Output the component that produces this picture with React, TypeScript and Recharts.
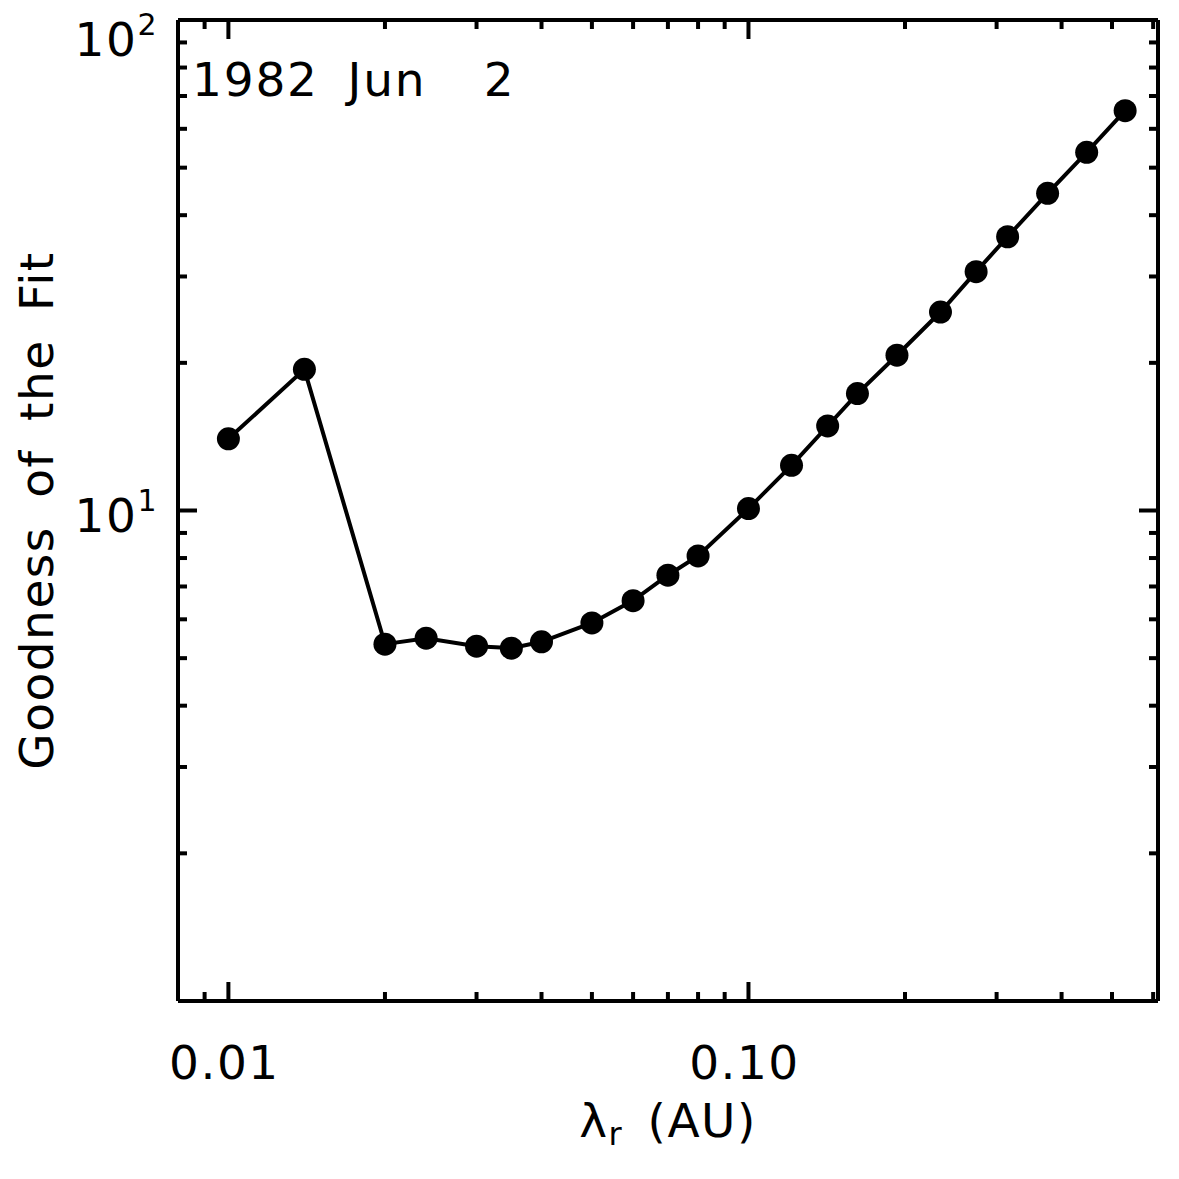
import React from "react";
import { LineChart, Line, XAxis, YAxis } from "recharts";

// lambda_r (AU) sampled in the fit, and the goodness-of-fit value at each
const lambdaAU = [
  0.01, 0.014, 0.02, 0.024, 0.03, 0.035, 0.04, 0.05, 0.06, 0.07, 0.08, 0.1,
  0.121, 0.142, 0.162, 0.193, 0.234, 0.274, 0.315, 0.376, 0.447, 0.53,
];
const goodness = [
  14.0, 19.4, 5.34, 5.49, 5.29, 5.24, 5.4, 5.9, 6.55, 7.38, 8.08, 10.09,
  12.36, 14.87, 17.31, 20.73, 25.39, 30.69, 36.15, 44.33, 53.73, 65.32,
];

const xTicks = [
  0.009, 0.01, 0.02, 0.03, 0.04, 0.05, 0.06, 0.07, 0.08, 0.09, 0.1, 0.2, 0.3,
  0.4, 0.5, 0.6,
];
const xMajor = [0.01, 0.1];
const xMajorLabels = ["0.01", "0.10"];

const yTicks = [2, 3, 4, 5, 6, 7, 8, 9, 10, 20, 30, 40, 50, 60, 70, 80, 90, 100];
const yMajor = [10, 100];
const yMajorExp = ["1", "2"];

const title = "1982 Jun  2";

const data = lambdaAU.map((x, i) => ({ x, y: goodness[i] }));

const W = 1179;
const H = 1179;
const LEFT = 178;
const RIGHT = 21;
const TOP = 20;
const BOTTOM = 178;
const FONT = "DejaVu Sans";

function XTick(props: any) {
  const { x, y, payload, side } = props;
  const i = xMajor.indexOf(payload.value);
  const len = i >= 0 ? 19 : 9;
  const dir = side === "bottom" ? -1 : 1;
  return (
    <g>
      <line x1={x} x2={x} y1={y} y2={y + dir * len} stroke="#000" strokeWidth={4} />
      {side === "bottom" && i >= 0 && (
        <text
          x={x - 4}
          y={y + 78}
          textAnchor="middle"
          fontFamily={FONT}
          fontSize={47}
          letterSpacing={1.5}
          fill="#000"
        >
          {xMajorLabels[i]}
        </text>
      )}
    </g>
  );
}

function YTick(props: any) {
  const { x, y, payload, side } = props;
  const i = yMajor.indexOf(payload.value);
  const len = i >= 0 ? 19 : 9;
  const dir = side === "left" ? 1 : -1;
  const base = payload.value === 100 ? y + 36 : y + 21.5;
  return (
    <g>
      <line x1={x} x2={x + dir * len} y1={y} y2={y} stroke="#000" strokeWidth={4} />
      {side === "left" && i >= 0 && (
        <text
          x={158}
          y={base}
          textAnchor="end"
          fontFamily={FONT}
          fontSize={47}
          letterSpacing={1.5}
          fill="#000"
        >
          10
          <tspan fontSize={30} dy={-21}>
            {yMajorExp[i]}
          </tspan>
        </text>
      )}
    </g>
  );
}

export default function App() {
  const plotCx = LEFT + (W - LEFT - RIGHT) / 2;
  const plotCy = TOP + (H - TOP - BOTTOM) / 2;
  return (
    <div style={{ position: "absolute", left: 0, top: 0, background: "#fff" }}>
      <LineChart
        width={W}
        height={H}
        data={data}
        margin={{ top: 0, right: 0, bottom: 0, left: 0 }}
      >
        <XAxis
          xAxisId="b"
          dataKey="x"
          type="number"
          scale="log"
          domain={[0.008, 0.613]}
          allowDataOverflow
          ticks={xTicks}
          interval={0}
          height={BOTTOM}
          tickSize={0}
          tickMargin={0}
          tickLine={false}
          axisLine={{ stroke: "#000", strokeWidth: 4 }}
          tick={(p: any) => <XTick {...p} side="bottom" />}
        />
        <XAxis
          xAxisId="t"
          orientation="top"
          dataKey="x"
          type="number"
          scale="log"
          domain={[0.008, 0.613]}
          allowDataOverflow
          ticks={xTicks}
          interval={0}
          height={TOP}
          tickSize={0}
          tickMargin={0}
          tickLine={false}
          axisLine={{ stroke: "#000", strokeWidth: 4 }}
          tick={(p: any) => <XTick {...p} side="top" />}
        />
        <YAxis
          yAxisId="l"
          type="number"
          scale="log"
          domain={[1, 100]}
          allowDataOverflow
          ticks={yTicks}
          interval={0}
          width={LEFT}
          tickSize={0}
          tickMargin={0}
          tickLine={false}
          axisLine={{ stroke: "#000", strokeWidth: 4 }}
          tick={(p: any) => <YTick {...p} side="left" />}
        />
        <YAxis
          yAxisId="r"
          orientation="right"
          type="number"
          scale="log"
          domain={[1, 100]}
          allowDataOverflow
          ticks={yTicks}
          interval={0}
          width={RIGHT}
          tickSize={0}
          tickMargin={0}
          tickLine={false}
          axisLine={{ stroke: "#000", strokeWidth: 4 }}
          tick={(p: any) => <YTick {...p} side="right" />}
        />
        <Line
          xAxisId="b"
          yAxisId="l"
          type="linear"
          dataKey="y"
          stroke="#000"
          strokeWidth={4}
          dot={{ r: 11.5, fill: "#000", stroke: "none" }}
          activeDot={false}
          isAnimationActive={false}
        />
        <text
          x={192}
          y={96}
          fontFamily={FONT}
          fontSize={47}
          letterSpacing={1.8}
          wordSpacing={12}
          style={{ whiteSpace: "pre" }}
          fill="#000"
        >
          {title}
        </text>
        <text
          x={plotCx}
          y={1137}
          textAnchor="middle"
          fontFamily={FONT}
          fontSize={47}
          letterSpacing={1.5}
          wordSpacing={8}
          style={{ whiteSpace: "pre" }}
          fill="#000"
        >
          λ
          <tspan fontSize={32} dy={8}>
            r
          </tspan>
          <tspan dy={-8}> (AU)</tspan>
        </text>
        <text
          transform={`translate(53, ${plotCy}) rotate(-90)`}
          textAnchor="middle"
          fontFamily={FONT}
          fontSize={47}
          letterSpacing={1.5}
          wordSpacing={12}
          fill="#000"
        >
          Goodness of the Fit
        </text>
      </LineChart>
    </div>
  );
}
